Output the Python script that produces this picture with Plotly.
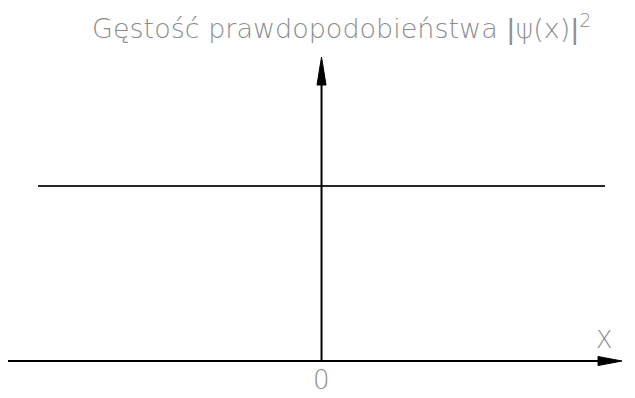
import plotly.graph_objects as go

# |psi(x)|^2 is constant (free particle / plane wave)
x_vals = [-1.0, 1.0]
density = [1.0, 1.0]

x_axis_span = [-1.134, 1.06]
y_axis_top = 1.737

title_text = "Gęstość prawdopodobieństwa <i>|</i>ψ(x)<i>|</i><sup>2</sup>"
x_label = "X"
origin_label = "0"

# pixels per data unit (fixed figure size / ranges below)
px_x = 283.5
px_y = 175.0

fig = go.Figure()
fig.add_trace(go.Scatter(x=x_vals, y=density, mode="lines",
                         line=dict(color="#262626", width=1.8),
                         hoverinfo="skip", showlegend=False))

# axes as lines + long narrow arrow heads
head_len, head_half = 24, 4.5
fig.add_shape(type="line", x0=x_axis_span[0], x1=x_axis_span[1] - 10 / px_x, y0=0, y1=0,
              line=dict(color="black", width=2))
fig.add_shape(type="line", x0=0, x1=0, y0=0, y1=y_axis_top - 10 / px_y,
              line=dict(color="black", width=2))
tx = x_axis_span[1]
fig.add_shape(type="path", fillcolor="black", line=dict(color="black", width=1),
              path=f"M {tx},0 L {tx - head_len / px_x},{head_half / px_y} "
                   f"L {tx - head_len / px_x},{-head_half / px_y} Z")
ty = y_axis_top
fig.add_shape(type="path", fillcolor="black", line=dict(color="black", width=1),
              path=f"M 0,{ty} L {head_half / px_x},{ty - 28 / px_y} "
                   f"L {-head_half / px_x},{ty - 28 / px_y} Z")

gray = "#8c8c8c"
fig.add_annotation(x=0.07, y=1.91, xref="x", yref="y", text=title_text,
                   showarrow=False, xanchor="center", yanchor="middle",
                   font=dict(family="DejaVu Sans", size=27, color=gray, weight=200))
fig.add_annotation(x=0.996, y=0.12, xref="x", yref="y", text=x_label,
                   showarrow=False, xanchor="center", yanchor="middle",
                   font=dict(family="DejaVu Sans", size=24, color=gray, weight=200))
fig.add_annotation(x=0, y=-0.109, xref="x", yref="y", text=origin_label,
                   showarrow=False, xanchor="center", yanchor="middle",
                   font=dict(family="DejaVu Sans", size=26, color=gray, weight=200))

# page body has an 8px margin, so the ranges are shifted to compensate
fig.update_xaxes(range=[-1.106, 1.134], visible=False, fixedrange=True)
fig.update_yaxes(range=[-0.257, 2.017], visible=False, fixedrange=True)
fig.update_layout(width=635, height=398, margin=dict(l=0, r=0, t=0, b=0),
                  plot_bgcolor="white", paper_bgcolor="white")

fig.write_html("out.html")
